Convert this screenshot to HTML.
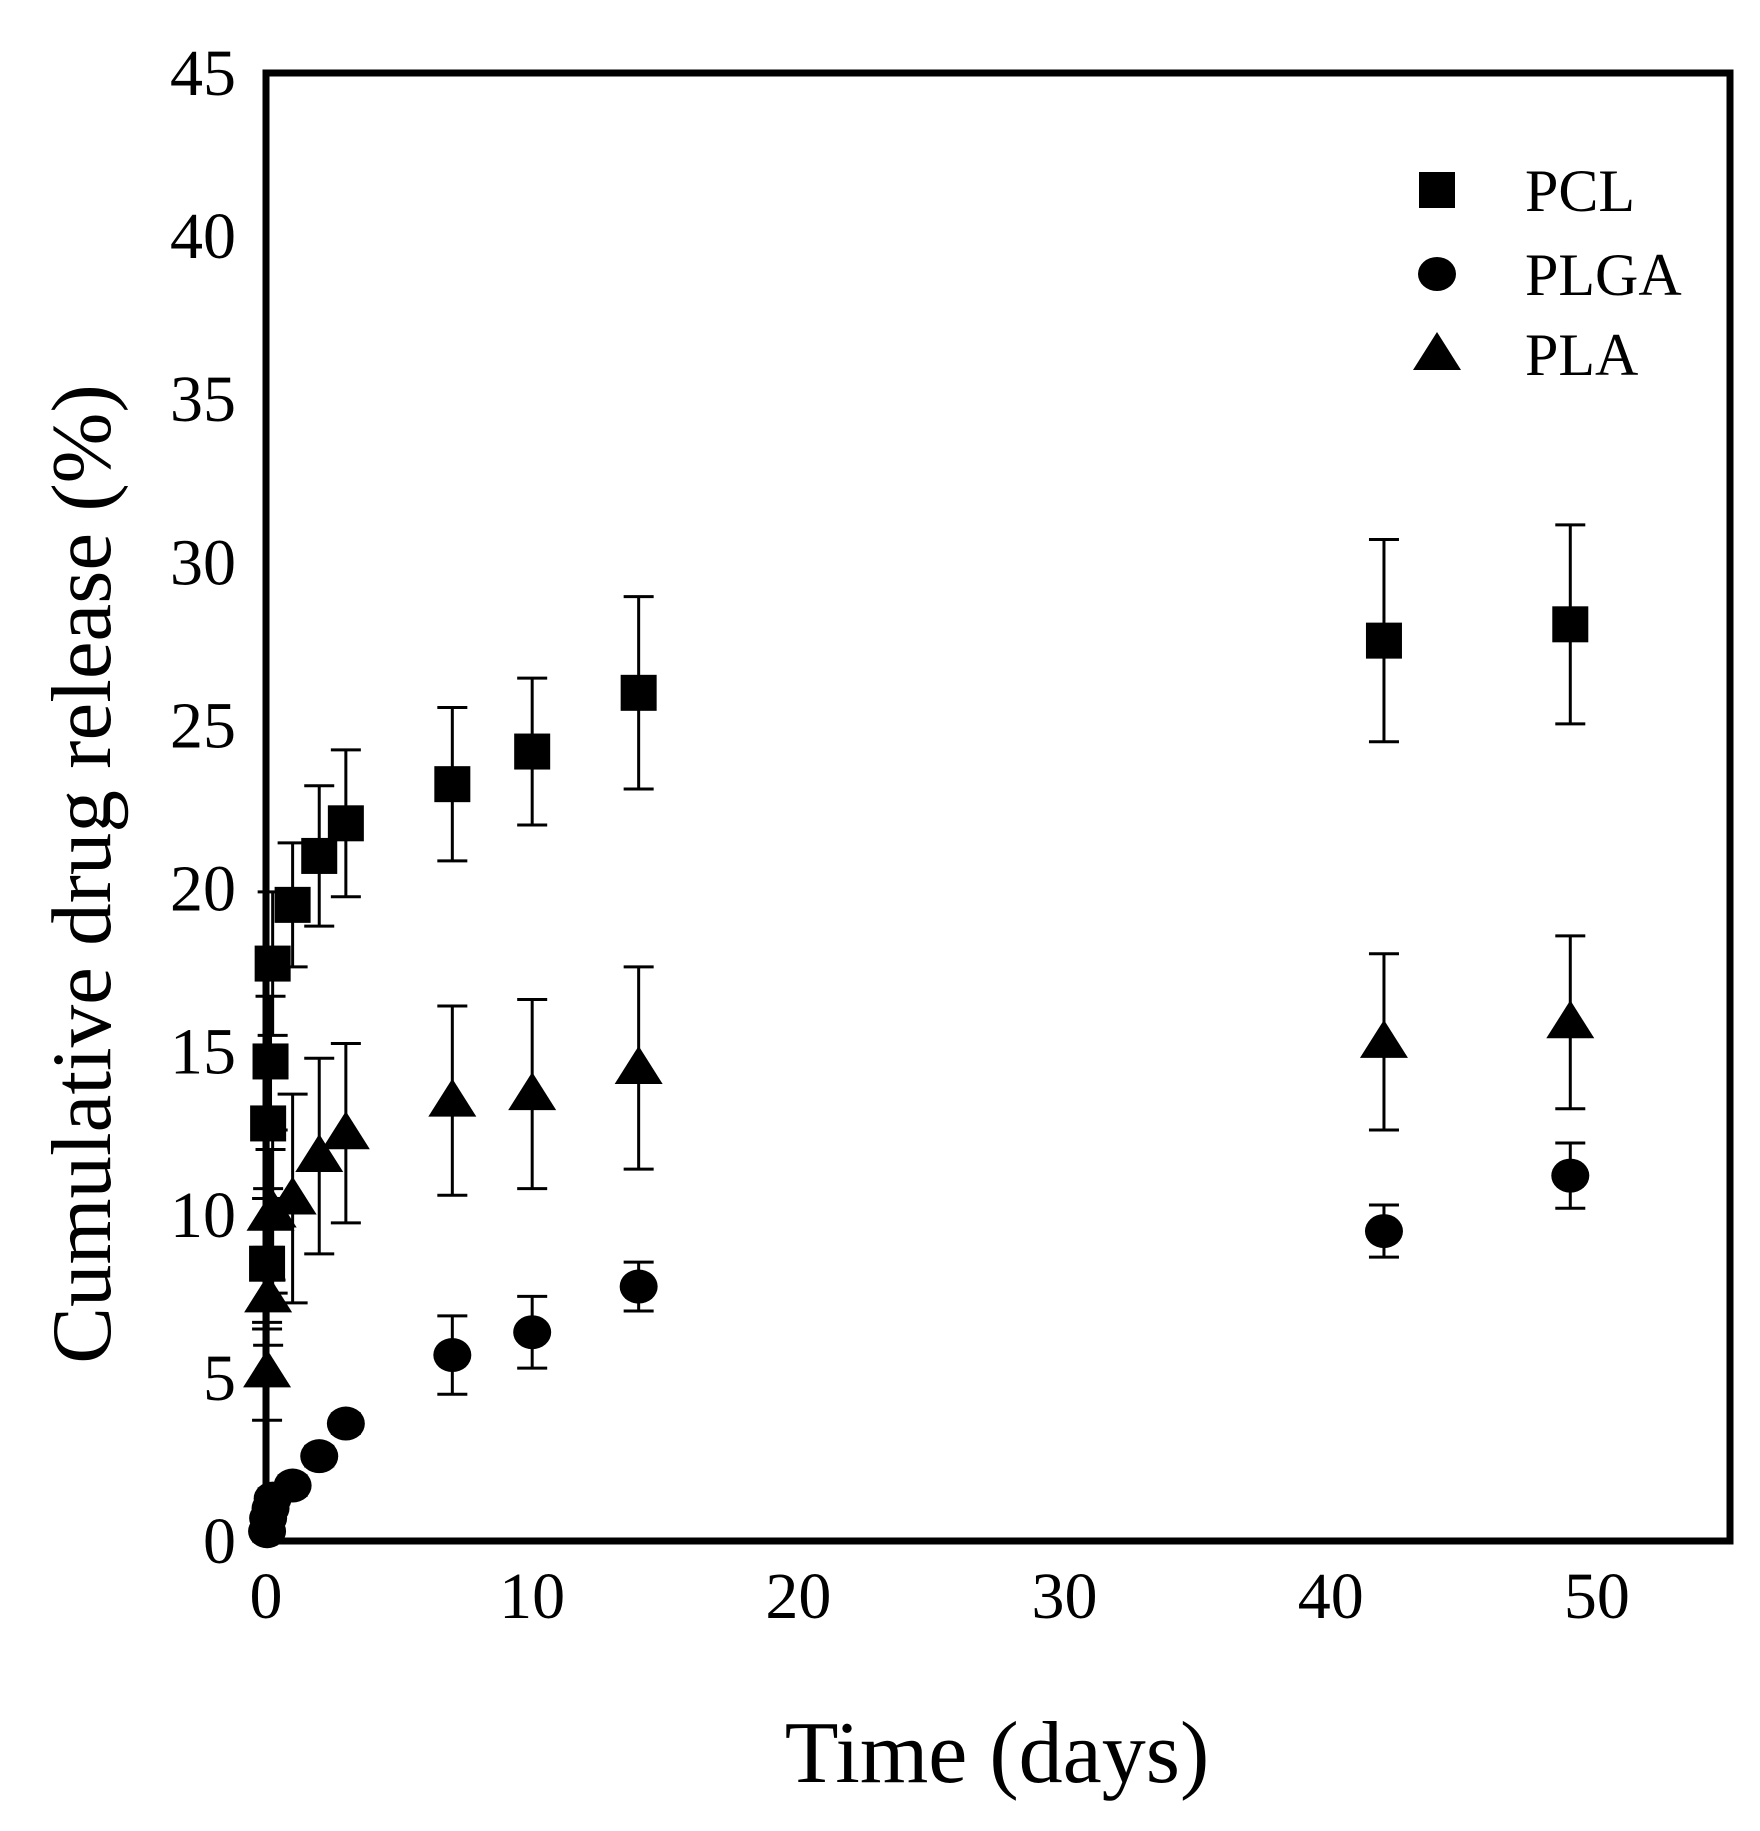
<!DOCTYPE html>
<html><head><meta charset="utf-8"><style>
html,body{margin:0;padding:0;background:#fff;}
svg text{font-family:"Liberation Serif",serif;fill:#000;}
</style></head><body>
<svg id="chart" width="1760" height="1826" xmlns="http://www.w3.org/2000/svg">
<g id="marks"></g>
<rect x="266" y="73" width="1464" height="1468" fill="none" stroke="#000" stroke-width="7"/>
<g id="axes"></g>
<text x="997" y="1782" font-size="88" text-anchor="middle">Time (days)</text>
<text transform="translate(110,874) rotate(-90)" font-size="85" text-anchor="middle">Cumulative drug release (%)</text>
<g id="legend"></g>
</svg>
<script>
const times = [0.04,0.08,0.17,0.25,1,2,3,7,10,14,42,49];
const pclVals = [8.5,12.8,14.7,17.7,19.5,21,22,23.2,24.2,26,27.6,28.1];
const pclErr = [2,2,2,2.2,1.9,2.15,2.25,2.35,2.25,2.95,3.1,3.05];
const plgaVals = [0.3,0.7,1.0,1.3,1.7,2.6,3.6,5.7,6.4,7.8,9.5,11.2];
const plgaErr = [0.3,0.3,0.3,0.3,0.3,0.3,0.3,1.2,1.1,0.75,0.8,1.0];
const plaVals = [5.2,7.5,10,10.1,10.5,11.8,12.5,13.5,13.7,14.5,15.3,15.9];
const plaErr = [1.5,1.5,2,2.5,3.2,3,2.75,2.9,2.9,3.1,2.7,2.65];
const xTicks = [0,10,20,30,40,50];
const yTicks = [0,5,10,15,20,25,30,35,40,45];
const seriesNames = ["PCL","PLGA","PLA"];

const X0=266,X1=1730,Y0=1541,Y1=73,XMAX=55,YMAX=45;
const sx=v=>X0+(X1-X0)*v/XMAX;
const sy=v=>Y0-(Y0-Y1)*v/YMAX;
const NS="http://www.w3.org/2000/svg";
const marks=document.getElementById('marks');
const axes=document.getElementById('axes');
const legend=document.getElementById('legend');
function mk(tag,attrs,parent){const e=document.createElementNS(NS,tag);for(const k in attrs)e.setAttribute(k,attrs[k]);parent.appendChild(e);return e;}

xTicks.forEach(t=>{
  const e=mk('text',{x:sx(t),y:1618,'font-size':66,'text-anchor':'middle'},axes);
  
  
  e.textContent=t;
});
yTicks.forEach(t=>{
  const e=mk('text',{x:236,y:sy(t)+22,'font-size':66,'text-anchor':'end'},axes);
  
  
  e.textContent=t;
});

function marker(kind,cx,cy,parent){
  let e;
  if(kind==='square') e=mk('rect',{x:cx-18,y:cy-18,width:36,height:36,fill:'#000'},parent);
  else if(kind==='circle') e=mk('ellipse',{cx:cx,cy:cy,rx:19,ry:17,fill:'#000'},parent);
  else e=mk('polygon',{points:`${cx},${cy-22} ${cx+24},${cy+16} ${cx-24},${cy+16}`,fill:'#000'},parent);
  return e;
}
function drawSeries(vals,errs,kind,name){
  const g=mk('g',{},marks);
  
  
  vals.forEach((v,i)=>{
    const x=sx(times[i]),yt=sy(v+errs[i]),yb=sy(v-errs[i]);
    const eb=mk('path',{d:`M${x},${yt}V${yb}M${x-15},${yt}H${x+15}M${x-15},${yb}H${x+15}`,stroke:'#000','stroke-width':3,fill:'none'},g);
    
    
  });
  vals.forEach((v,i)=>{
    const m=marker(kind,sx(times[i]),sy(v),g);
    
    
  });
}
drawSeries(pclVals,pclErr,'square','pcl');
drawSeries(plaVals,plaErr,'triangle','pla');
drawSeries(plgaVals,plgaErr,'circle','plga');

const kinds=['square','circle','triangle'];
const legY=[190,274,354];
seriesNames.forEach((n,i)=>{
  const m=marker(kinds[i],1437,legY[i],legend);
  
  
  const t=mk('text',{x:1525,y:legY[i]+21,'font-size':60},legend);
  
  
  t.textContent=n;
});
</script>
</body></html>
